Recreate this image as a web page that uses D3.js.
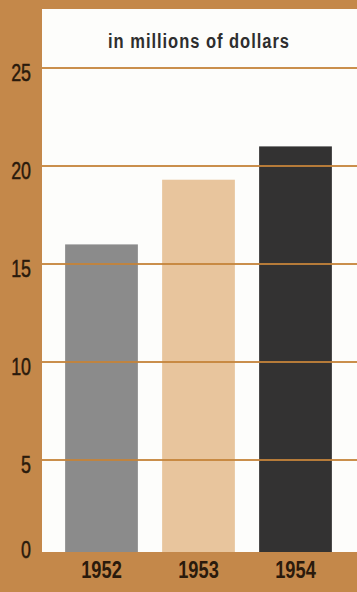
<!DOCTYPE html>
<html><head><meta charset="utf-8">
<script src="https://cdn.jsdelivr.net/npm/d3@7"></script>
<style>html,body{margin:0;padding:0;background:#c4884a;}svg{display:block;}</style>
</head><body>
<svg id="c" width="357" height="592"></svg>
<script>
const years = ["1952", "1953", "1954"];
const values = [16.0, 19.3, 21.0];
const barColors = ["#8b8b8b", "#e8c59d", "#333232"];
const yTicks = [0, 5, 10, 15, 20, 25];
const title = "in millions of dollars";

const svg = d3.select("#c");
const W = 357, H = 592;
const panel = {x: 42, y: 9, w: W - 42, h: 552 - 9};
const FONT = "'Liberation Sans', Arial, sans-serif";
const INK = "#2a1a0c";

svg.append("rect").attr("width", W).attr("height", H).attr("fill", "#c4884a");

const x = d3.scaleBand().domain(years).range([53, 344]).paddingInner(0.25).paddingOuter(0.125);
const y = d3.scaleLinear().domain([0, 25]).range([558, 68]);

svg.append("defs").append("clipPath").attr("id", "pc")
  .append("rect").attr("x", panel.x).attr("y", panel.y).attr("width", panel.w).attr("height", panel.h);

svg.append("rect").attr("x", panel.x).attr("y", panel.y).attr("width", panel.w).attr("height", panel.h).attr("fill", "#fdfdfb");

const g = svg.append("g").attr("clip-path", "url(#pc)");
g.selectAll("rect.bar").data(years).join("rect").attr("class", "bar")
  .attr("x", d => x(d)).attr("width", x.bandwidth())
  .attr("y", (d, i) => y(values[i])).attr("height", (d, i) => y(0) - y(values[i]))
  .attr("fill", (d, i) => barColors[i]);

g.selectAll("line.grid").data(yTicks.filter(t => t > 0)).join("line").attr("class", "grid")
  .attr("x1", panel.x).attr("x2", W).attr("y1", d => y(d)).attr("y2", d => y(d))
  .attr("stroke", "#c5843a").attr("stroke-width", 2).attr("opacity", 0.9);

function ctext(sel, tx, ty, sx) {
  return sel.attr("transform", (d, i) => `translate(${tx(d, i)},${ty(d, i)}) scale(${sx},1)`);
}

ctext(svg.selectAll("text.tick").data(yTicks).join("text").attr("class", "tick"),
    () => 31, d => Math.min(y(d) + 4, 549) + 8.5, 0.76)
  .attr("text-anchor", "end")
  .attr("font-family", FONT).attr("font-size", 23.5).attr("fill", INK)
  .attr("stroke", INK).attr("stroke-width", 0.5)
  .text(d => d);

ctext(svg.selectAll("text.year").data(years).join("text").attr("class", "year"),
    d => x(d) + x.bandwidth() / 2, () => 578, 0.76)
  .attr("text-anchor", "middle")
  .attr("font-family", FONT).attr("font-weight", "bold").attr("font-size", 24).attr("fill", INK)
  .text(d => d);

const t = svg.append("text").attr("text-anchor", "middle")
  .attr("font-family", FONT).attr("font-weight", "bold").attr("font-size", 20.5)
  .attr("letter-spacing", 1.2)
  .attr("fill", "#2e2e2e").text(title);
const tw = t.node().getComputedTextLength();
t.attr("transform", `translate(199,48) scale(${182 / tw},1)`);
</script>
</body></html>
